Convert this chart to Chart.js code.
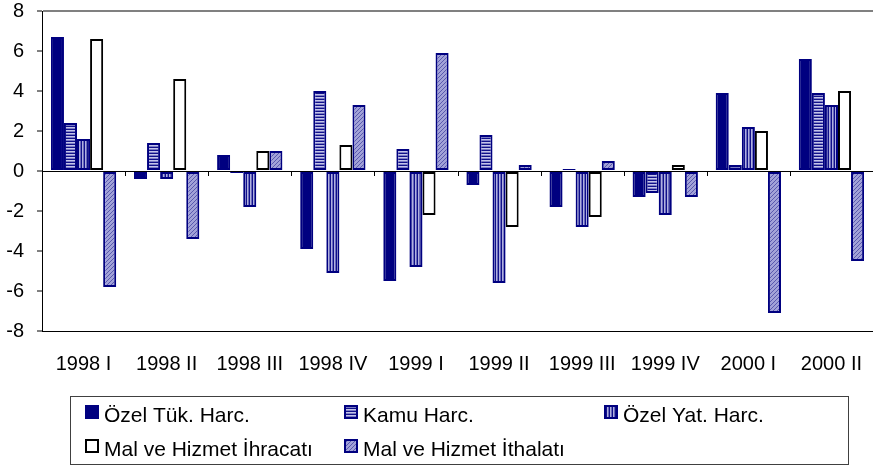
<!DOCTYPE html>
<html>
<head>
<meta charset="utf-8">
<script src="https://cdn.jsdelivr.net/npm/chart.js@4"></script>
<style>
  html, body { margin: 0; padding: 0; background: #fff; }
  #wrap { width: 873px; height: 468px; position: relative; }
</style>
</head>
<body>
<div id="wrap"><canvas id="c" width="873" height="468"></canvas></div>
<script>
const categories = ['1998 I', '1998 II', '1998 III', '1998 IV', '1999 I', '1999 II', '1999 III', '1999 IV', '2000 I', '2000 II'];
const seriesNames = ['Özel Tük. Harc.', 'Kamu Harc.', 'Özel Yat. Harc.', 'Mal ve Hizmet İhracatı', 'Mal ve Hizmet İthalatı'];
const ozelTuketim = [6.7, -0.4, 0.8, -3.9, -5.5, -0.7, -1.8, -1.3, 3.9, 5.6];
const kamuHarc    = [2.4, 1.4, -0.1, 4.0, 1.1, 1.8, 0.1, -1.1, 0.3, 3.9];
const ozelYatirim = [1.6, -0.4, -1.8, -5.1, -4.8, -5.6, -2.8, -2.2, 2.2, 3.3];
const ihracat     = [6.6, 4.6, 1.0, 1.3, -2.2, -2.8, -2.3, 0.3, 2.0, 4.0];
const ithalat     = [-5.8, -3.4, 1.0, 3.3, 5.9, 0.3, 0.5, -1.3, -7.1, -4.5];
const yTicks = [8, 6, 4, 2, 0, -2, -4, -6, -8];

const NAVY = '#000080';
const FONT = '"Liberation Sans", Arial, sans-serif';

function makePattern(kind) {
  const c = document.createElement('canvas');
  const ctx = c.getContext('2d');
  if (kind === 'h') {
    c.width = 3; c.height = 3;
    ctx.fillStyle = '#c4c4ea'; ctx.fillRect(0, 0, 3, 3);
    ctx.fillStyle = '#10108a'; ctx.fillRect(0, 0, 3, 1);
    ctx.fillStyle = '#7c7cc4'; ctx.fillRect(0, 2, 3, 1);
  } else if (kind === 'v') {
    c.width = 3; c.height = 3;
    ctx.fillStyle = '#b0b0e0'; ctx.fillRect(0, 0, 3, 3);
    ctx.fillStyle = '#10108a'; ctx.fillRect(0, 0, 1, 3);
    ctx.fillStyle = '#6a6abc'; ctx.fillRect(2, 0, 1, 3);
  } else {
    c.width = 4; c.height = 4;
    ctx.fillStyle = '#a2a2d8'; ctx.fillRect(0, 0, 4, 4);
    ctx.fillStyle = '#5a5aae';
    for (let i = 0; i < 4; i++) ctx.fillRect(3 - i, i, 1, 1);
  }
  return document.createElement('canvas').getContext('2d').createPattern(c, 'repeat');
}

const fills = [NAVY, makePattern('h'), makePattern('v'), '#ffffff', makePattern('d')];
const borders = [NAVY, NAVY, NAVY, '#000000', NAVY];
const values = [ozelTuketim, kamuHarc, ozelYatirim, ihracat, ithalat];

const datasets = seriesNames.map((name, i) => ({
  label: name,
  data: values[i],
  backgroundColor: fills[i],
  borderColor: borders[i],
  borderWidth: 2,
  borderSkipped: false,
  categoryPercentage: 0.786,
  barPercentage: 1.0
}));

const extras = {
  id: 'extras',
  afterDatasetsDraw(chart) {
    const ctx = chart.ctx;
    const xs = chart.scales.x, ys = chart.scales.y;
    const y0 = ys.getPixelForValue(0);
    ctx.save();
    ctx.strokeStyle = '#000';
    ctx.lineWidth = 1;
    ctx.beginPath();
    ctx.moveTo(xs.left, Math.round(y0) + 0.5);
    ctx.lineTo(xs.right, Math.round(y0) + 0.5);
    ctx.stroke();
    for (let i = 0; i <= categories.length; i++) {
      const x = Math.round(xs.getPixelForValue(i - 0.5)) + 0.5;
      ctx.beginPath();
      ctx.moveTo(x, Math.round(y0));
      ctx.lineTo(x, Math.round(y0) + 5);
      ctx.stroke();
    }
    ctx.restore();
  },
  afterDraw(chart) {
    const ctx = chart.ctx;
    ctx.save();
    ctx.strokeStyle = '#404040';
    ctx.lineWidth = 1;
    ctx.strokeRect(70.5, 396.5, 778, 68);
    const pos = [
      [85, 405, 104, 422],
      [344, 405, 363, 422],
      [604, 405, 623, 422],
      [85, 439, 104, 456],
      [344, 439, 363, 456]
    ];
    ctx.font = '21px ' + FONT;
    ctx.textBaseline = 'alphabetic';
    ctx.textAlign = 'left';
    chart.data.datasets.forEach((ds, i) => {
      const [mx, my, tx, ty] = pos[i];
      ctx.fillStyle = ds.backgroundColor;
      ctx.fillRect(mx, my, 14, 14);
      ctx.strokeStyle = ds.borderColor;
      ctx.lineWidth = 2;
      ctx.strokeRect(mx + 1, my + 1, 12, 12);
      ctx.fillStyle = '#000';
      ctx.fillText(ds.label, tx, ty);
    });
    ctx.restore();
  }
};

new Chart(document.getElementById('c'), {
  type: 'bar',
  data: { labels: categories, datasets },
  options: {
    responsive: false,
    animation: false,
    devicePixelRatio: 1,
    layout: { padding: { top: 11, right: 0, left: 0, bottom: 0 } },
    plugins: { legend: { display: false }, tooltip: { enabled: false } },
    scales: {
      x: {
        grid: { display: false },
        border: { display: true, color: '#000', width: 1 },
        ticks: { color: '#000', font: { family: FONT, size: 20 }, padding: 13, maxRotation: 0, autoSkip: false },
        afterFit(s) { s.height = 137; s.paddingLeft = 0; s.paddingRight = 0; }
      },
      y: {
        min: -8, max: 8,
        afterBuildTicks(s) { s.ticks = yTicks.map(v => ({ value: v })); },
        grid: {
          color: (c) => c.tick && c.tick.value === 8 ? '#808080' : 'rgba(0,0,0,0)',
          lineWidth: 2,
          tickColor: '#000',
          tickLength: 5,
          tickWidth: 1
        },
        border: { display: true, color: '#000', width: 1 },
        ticks: { color: '#000', font: { family: FONT, size: 20 }, padding: 13 },
        afterFit(s) { s.width = 42; s.paddingTop = 0; s.paddingBottom = 0; }
      }
    }
  },
  plugins: [extras]
});
</script>
</body>
</html>
